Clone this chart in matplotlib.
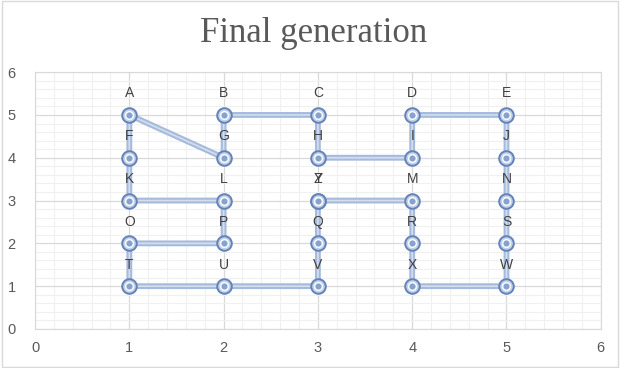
import matplotlib
matplotlib.use("Agg")
import matplotlib.pyplot as plt
from matplotlib.ticker import MultipleLocator
from matplotlib.patches import Rectangle

# city labels and their coordinates
names = ["A", "B", "C", "D", "E",
         "F", "G", "H", "I", "J",
         "K", "L", "Y", "Z", "M", "N",
         "O", "P", "Q", "R", "S",
         "T", "U", "V", "X", "W"]
xs = [1, 2, 3, 4, 5,
      1, 2, 3, 4, 5,
      1, 2, 3, 3, 4, 5,
      1, 2, 3, 4, 5,
      1, 2, 3, 4, 5]
ys = [5, 5, 5, 5, 5,
      4, 4, 4, 4, 4,
      3, 3, 3, 3, 3, 3,
      2, 2, 2, 2, 2,
      1, 1, 1, 1, 1]

# visiting order of the final generation (closed tour)
tour = ["A", "G", "B", "C", "H", "I", "D", "E", "J", "N", "S", "W", "X",
        "R", "M", "Y", "Z", "Q", "V", "U", "T", "O", "P", "L", "K", "F", "A"]

pos = {n: (x, y) for n, x, y in zip(names, xs, ys)}
tx = [pos[n][0] for n in tour]
ty = [pos[n][1] for n in tour]

fig = plt.figure(figsize=(6.2, 3.68), dpi=100)
fig.patches.append(Rectangle((0.003, 0.003), 0.994, 0.994, transform=fig.transFigure,
                             fill=False, edgecolor="#d9d9d9", lw=1))
ax = fig.add_axes([0.0565, 0.106, 0.9125, 0.698])

ax.set_xlim(0, 6); ax.set_ylim(0, 6)
ax.xaxis.set_major_locator(MultipleLocator(1)); ax.yaxis.set_major_locator(MultipleLocator(1))
ax.xaxis.set_minor_locator(MultipleLocator(0.2)); ax.yaxis.set_minor_locator(MultipleLocator(0.2))
ax.grid(which="major", color="#d9d9d9", lw=0.9)
ax.grid(which="minor", color="#f0f0f0", lw=0.8)
ax.set_axisbelow(True)
for s in ax.spines.values():
    s.set_color("#d9d9d9")
ax.tick_params(which="both", length=0, labelsize=10.5, labelcolor="#595959", pad=9)
for t in ax.get_xticklabels() + ax.get_yticklabels():
    t.set_fontfamily("Liberation Sans")
ax.tick_params(axis="y", pad=14)

# route: light blue double line
ax.plot(tx, ty, color="#a6bbdb", lw=4.2, solid_capstyle="round", zorder=2)
ax.plot(tx, ty, color="#d3deef", lw=1.2, zorder=3)

# bullseye markers
ax.plot(xs, ys, "o", ms=10.5, mfc="#c3d1ea", mec="#6383b7", mew=1.4, zorder=4)
ax.plot(xs, ys, "o", ms=5.5, mfc="#86a2cf", mec="white", mew=1.0, zorder=5)

for n, x, y in zip(names, xs, ys):
    ax.text(x, y + 0.34, n, ha="center", va="bottom", fontsize=10,
            family="Liberation Sans", color="#404040", zorder=6)

fig.text(0.505, 0.91, "Final generation", ha="center", va="center",
         fontsize=25, family="Liberation Serif", color="#595959")

fig.savefig("out.png", dpi=100)
